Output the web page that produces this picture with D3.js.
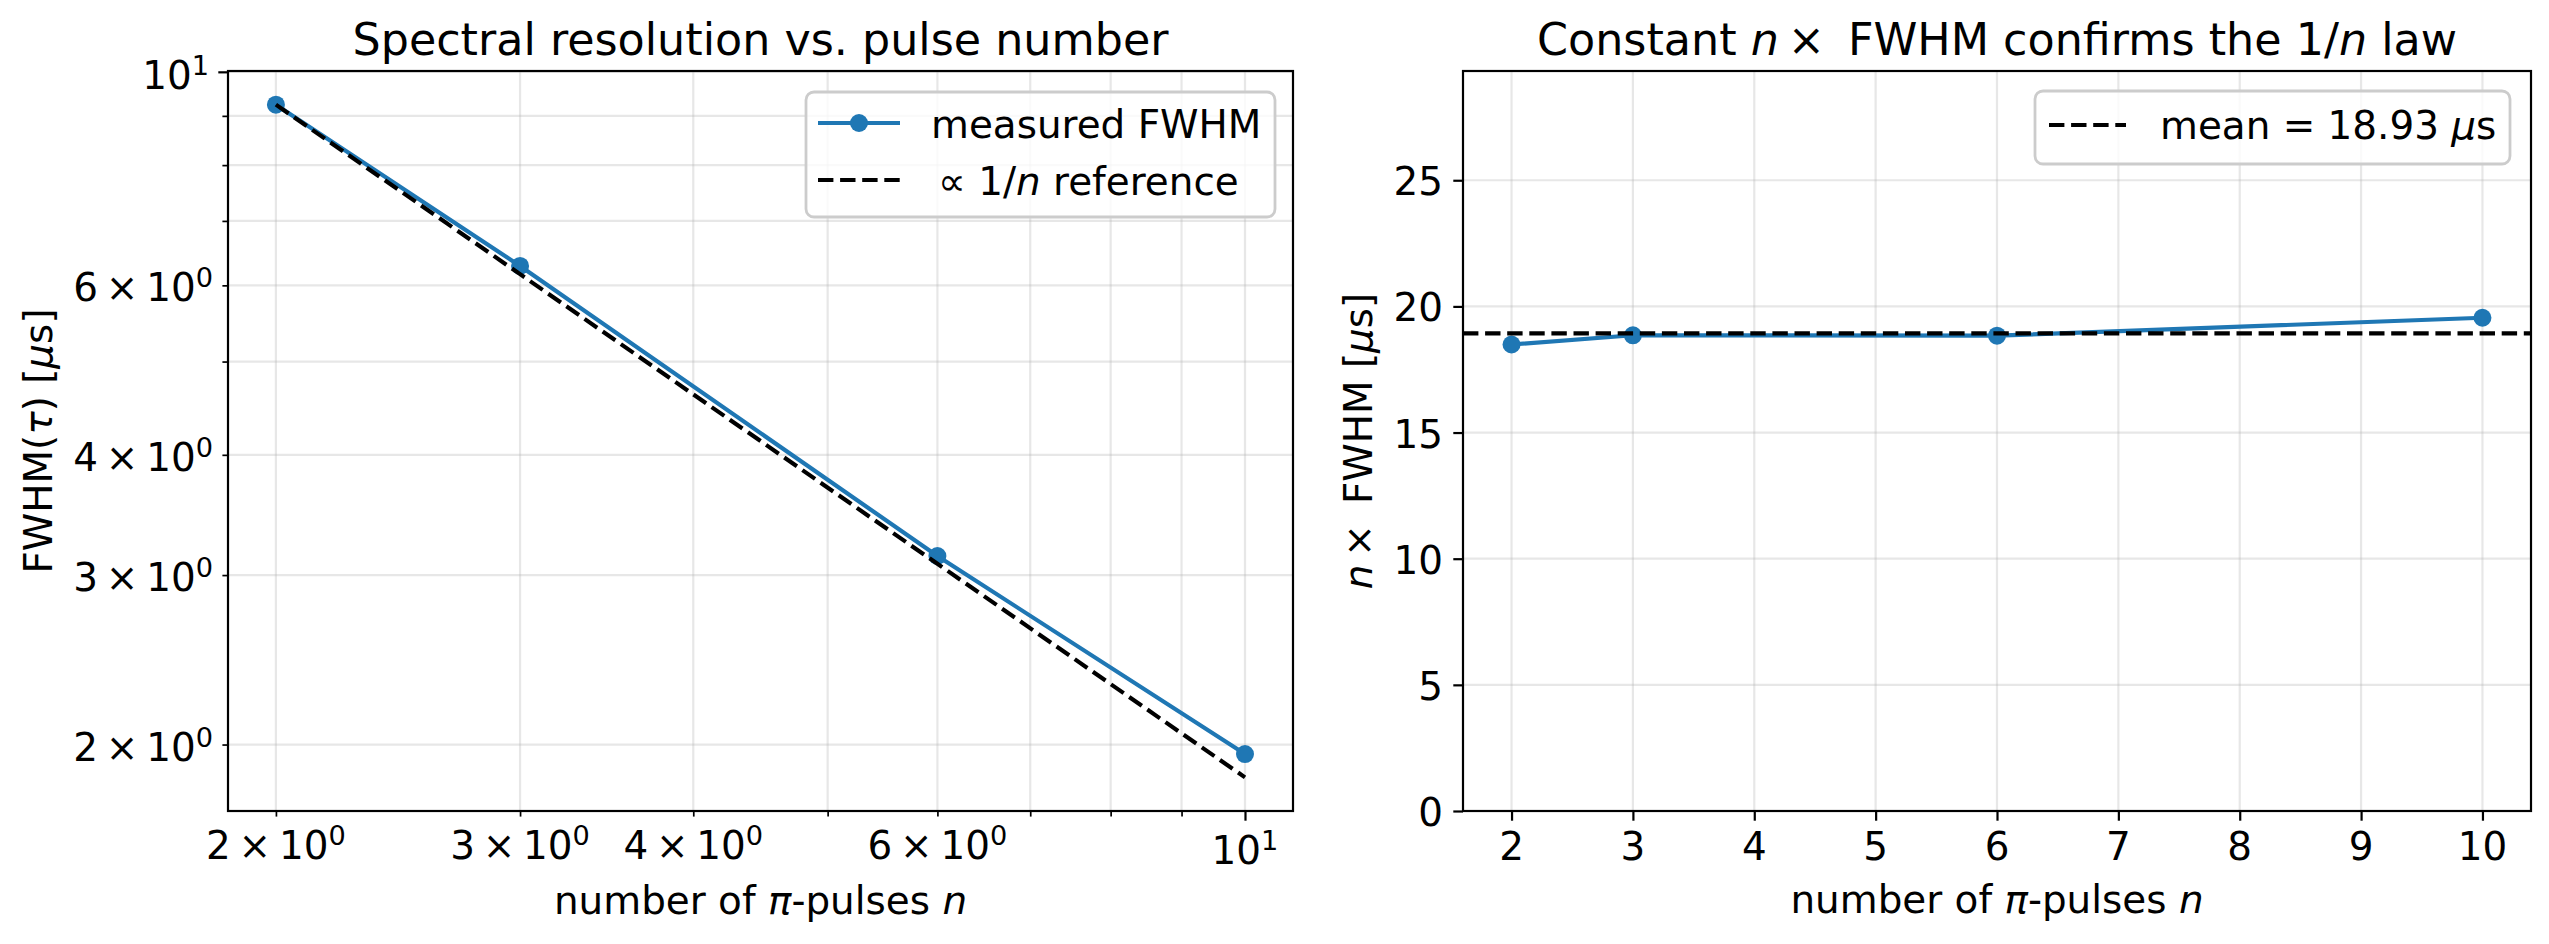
<!DOCTYPE html>
<html>
<head>
<meta charset="utf-8">
<script src="https://cdn.jsdelivr.net/npm/d3@7"></script>
<style>
  body { margin: 0; background: #fff; }
  svg { display: block; font-family: "DejaVu Sans", sans-serif; }
  .tick line { stroke: #000; }
  .grid line { stroke: #b0b0b0; stroke-opacity: 0.3; stroke-width: 2.2px; }
</style>
</head>
<body>
<div id="chart"></div>
<script>
// data
var nPulses = [2, 3, 6, 10];
var fwhm = [9.245, 6.285, 3.14, 1.955];          // measured FWHM [us]
var refFwhm = [9.245, 6.163, 3.082, 1.849];      // 1/n reference
var nTimesFwhm = [18.49, 18.855, 18.84, 19.55];  // n x FWHM [us]
var meanNFwhm = 18.93;

var logTicks = [2, 3, 4, 5, 6, 7, 8, 9, 10];
var logLabelled = [2, 3, 4, 6, 10];
var linXTicks = [2, 3, 4, 5, 6, 7, 8, 9, 10];
var linYTicks = [0, 5, 10, 15, 20, 25];

var blue = "#1f77b4";
var fs = 38.9, titleFs = 44.4, lw = 4.17, markR = 9;

var svg = d3.select("#chart").append("svg")
    .attr("width", 2549).attr("height", 944);
svg.append("rect").attr("width", 2549).attr("height", 944).attr("fill", "#fff");

var plotTop = 71, plotBottom = 811;

// left panel scales
var xL = d3.scaleLog().domain([1.847, 10.83]).range([228, 1293]);
var yL = d3.scaleLog().domain([1.706, 10.02]).range([plotBottom, plotTop]);
// right panel scales
var xR = d3.scaleLinear().domain([1.6, 10.4]).range([1463, 2531]);
var yR = d3.scaleLinear().domain([0, 29.33]).range([plotBottom, plotTop]);

// write "a x 10^b" like matplotlib's log labels
function logLabel(t, v) {
    t.text("");
    if (v === 10) {
        t.append("tspan").text("10");
        t.append("tspan").attr("dy", -14).style("font-size", "27.2px").text("1");
    } else {
        t.append("tspan").text(v + "\u2009\u00d7\u200910");
        t.append("tspan").attr("dy", -14).style("font-size", "27.2px").text("0");
    }
}

function grid(g, xs, ys, xTicks, yTicks) {
    var gg = g.append("g").attr("class", "grid");
    gg.selectAll(".gx").data(xTicks).enter().append("line")
        .attr("x1", d => xs(d)).attr("x2", d => xs(d))
        .attr("y1", plotTop).attr("y2", plotBottom);
    gg.selectAll(".gy").data(yTicks).enter().append("line")
        .attr("x1", xs.range()[0]).attr("x2", xs.range()[1])
        .attr("y1", d => ys(d)).attr("y2", d => ys(d));
}

function frame(g, xs) {
    g.append("rect")
        .attr("x", xs.range()[0]).attr("y", plotTop)
        .attr("width", xs.range()[1] - xs.range()[0]).attr("height", plotBottom - plotTop)
        .attr("fill", "none").attr("stroke", "#000").attr("stroke-width", 2.2);
}

function ticks(g, xs, ys, xTicks, yTicks, isMajor) {
    var gx = g.append("g").attr("transform", `translate(0, ${plotBottom})`)
        .call(d3.axisBottom(xs).tickValues(xTicks).tickSizeOuter(0).tickFormat(""));
    var gy = g.append("g").attr("transform", `translate(${xs.range()[0]}, 0)`)
        .call(d3.axisLeft(ys).tickValues(yTicks).tickSizeOuter(0).tickFormat(""));
    [gx, gy].forEach(a => {
        a.select(".domain").remove();
        a.selectAll(".tick line")
            .attr("stroke-width", d => isMajor(d) ? 2.2 : 1.7);
    });
    gx.selectAll(".tick line").attr("y2", d => isMajor(d) ? 9.7 : 5.6);
    gy.selectAll(".tick line").attr("x2", d => isMajor(d) ? -9.7 : -5.6);
}

function legendBox(g, x, y, w, h) {
    g.append("rect").attr("x", x).attr("y", y).attr("width", w).attr("height", h)
        .attr("rx", 8).attr("fill", "#fff").attr("fill-opacity", 0.8)
        .attr("stroke", "#cccccc").attr("stroke-width", 2.78);
}

// ---------------- left panel ----------------
var left = svg.append("g");
grid(left, xL, yL, logTicks, logTicks);

var line = d3.line().x((d, i) => xL(nPulses[i])).y(d => yL(d));
left.append("path").datum(fwhm)
    .attr("d", line).attr("fill", "none")
    .attr("stroke", blue).attr("stroke-width", lw);
left.selectAll(".pt").data(fwhm).enter().append("circle")
    .attr("cx", (d, i) => xL(nPulses[i])).attr("cy", d => yL(d))
    .attr("r", markR).attr("fill", blue);
left.append("path").datum(refFwhm)
    .attr("d", line).attr("fill", "none")
    .attr("stroke", "#000").attr("stroke-width", lw)
    .attr("stroke-dasharray", "15.4,6.7");

frame(left, xL);
ticks(left, xL, yL, logTicks, logTicks, d => d === 10);

// tick labels
left.selectAll(".xl").data(logLabelled).enter().append("text")
    .attr("x", d => xL(d)).attr("y", d => d === 10 ? 864 : 859)
    .attr("text-anchor", "middle").style("font-size", fs + "px")
    .each(function(d) { logLabel(d3.select(this), d); });
left.selectAll(".yl").data(logLabelled).enter().append("text")
    .attr("x", d => d === 10 ? 209 : 213).attr("y", d => yL(d) + (d === 10 ? 17 : 16))
    .attr("text-anchor", "end").style("font-size", fs + "px")
    .each(function(d) { logLabel(d3.select(this), d); });

left.append("text").attr("x", 760.5).attr("y", 55)
    .attr("text-anchor", "middle").style("font-size", titleFs + "px")
    .text("Spectral resolution vs. pulse number");

var xlab = left.append("text").attr("x", 760.5).attr("y", 914)
    .attr("text-anchor", "middle").style("font-size", fs + "px");
xlab.append("tspan").text("number of ");
xlab.append("tspan").style("font-style", "italic").text("\u03c0");
xlab.append("tspan").text("-pulses ");
xlab.append("tspan").style("font-style", "italic").text("n");

var ylab = left.append("text").attr("transform", "translate(52, 441) rotate(-90)")
    .attr("text-anchor", "middle").style("font-size", fs + "px");
ylab.append("tspan").text("FWHM(");
ylab.append("tspan").style("font-style", "italic").text("\u03c4");
ylab.append("tspan").text(") [");
ylab.append("tspan").style("font-style", "italic").text("\u03bc");
ylab.append("tspan").text("s]");

// legend
legendBox(left, 806, 92, 469, 125);
left.append("line").attr("x1", 818).attr("x2", 900).attr("y1", 123).attr("y2", 123)
    .attr("stroke", blue).attr("stroke-width", lw);
left.append("circle").attr("cx", 859).attr("cy", 123).attr("r", markR).attr("fill", blue);
left.append("text").attr("x", 931).attr("y", 138).style("font-size", fs + "px")
    .text("measured FWHM");
left.append("line").attr("x1", 818).attr("x2", 900).attr("y1", 180).attr("y2", 180)
    .attr("stroke", "#000").attr("stroke-width", lw).attr("stroke-dasharray", "15.4,6.7");
var lg2 = left.append("text").attr("x", 938).attr("y", 195).style("font-size", fs + "px");
lg2.append("tspan").text("\u221d 1/");
lg2.append("tspan").style("font-style", "italic").text("n");
lg2.append("tspan").text(" reference");

// ---------------- right panel ----------------
var right = svg.append("g");
grid(right, xR, yR, linXTicks, linYTicks);

var lineR = d3.line().x((d, i) => xR(nPulses[i])).y(d => yR(d));
right.append("path").datum(nTimesFwhm)
    .attr("d", lineR).attr("fill", "none")
    .attr("stroke", blue).attr("stroke-width", lw);
right.selectAll(".pt").data(nTimesFwhm).enter().append("circle")
    .attr("cx", (d, i) => xR(nPulses[i])).attr("cy", d => yR(d))
    .attr("r", markR).attr("fill", blue);
right.append("line")
    .attr("x1", xR.range()[0]).attr("x2", xR.range()[1])
    .attr("y1", yR(meanNFwhm)).attr("y2", yR(meanNFwhm))
    .attr("stroke", "#000").attr("stroke-width", lw)
    .attr("stroke-dasharray", "15.4,6.7");

frame(right, xR);
ticks(right, xR, yR, linXTicks, linYTicks, d => true);

right.selectAll(".xl").data(linXTicks).enter().append("text")
    .attr("x", d => xR(d)).attr("y", 860)
    .attr("text-anchor", "middle").style("font-size", fs + "px")
    .text(d => d);
right.selectAll(".yl").data(linYTicks).enter().append("text")
    .attr("x", 1443).attr("y", d => yR(d) + 15)
    .attr("text-anchor", "end").style("font-size", fs + "px")
    .text(d => d);

var t2 = right.append("text").attr("x", 1997).attr("y", 55)
    .attr("text-anchor", "middle").style("font-size", titleFs + "px");
t2.append("tspan").text("Constant ");
t2.append("tspan").style("font-style", "italic").text("n");
t2.append("tspan").text("\u2009\u00d7 \u2009FWHM confirms the 1/");
t2.append("tspan").style("font-style", "italic").text("n");
t2.append("tspan").text(" law");

var xlab2 = right.append("text").attr("x", 1997).attr("y", 913)
    .attr("text-anchor", "middle").style("font-size", fs + "px");
xlab2.append("tspan").text("number of ");
xlab2.append("tspan").style("font-style", "italic").text("\u03c0");
xlab2.append("tspan").text("-pulses ");
xlab2.append("tspan").style("font-style", "italic").text("n");

var ylab2 = right.append("text").attr("transform", "translate(1372, 441) rotate(-90)")
    .attr("text-anchor", "middle").style("font-size", fs + "px");
ylab2.append("tspan").style("font-style", "italic").text("n");
ylab2.append("tspan").text("\u2009\u00d7 \u2009FWHM [");
ylab2.append("tspan").style("font-style", "italic").text("\u03bc");
ylab2.append("tspan").text("s]");

legendBox(right, 2035, 91, 475, 73);
right.append("line").attr("x1", 2049).attr("x2", 2126).attr("y1", 125).attr("y2", 125)
    .attr("stroke", "#000").attr("stroke-width", lw).attr("stroke-dasharray", "15.4,6.7");
var lg3 = right.append("text").attr("x", 2160).attr("y", 139).style("font-size", fs + "px");
lg3.append("tspan").text("mean = 18.93 ");
lg3.append("tspan").style("font-style", "italic").text("\u03bc");
lg3.append("tspan").text("s");
</script>
</body>
</html>
